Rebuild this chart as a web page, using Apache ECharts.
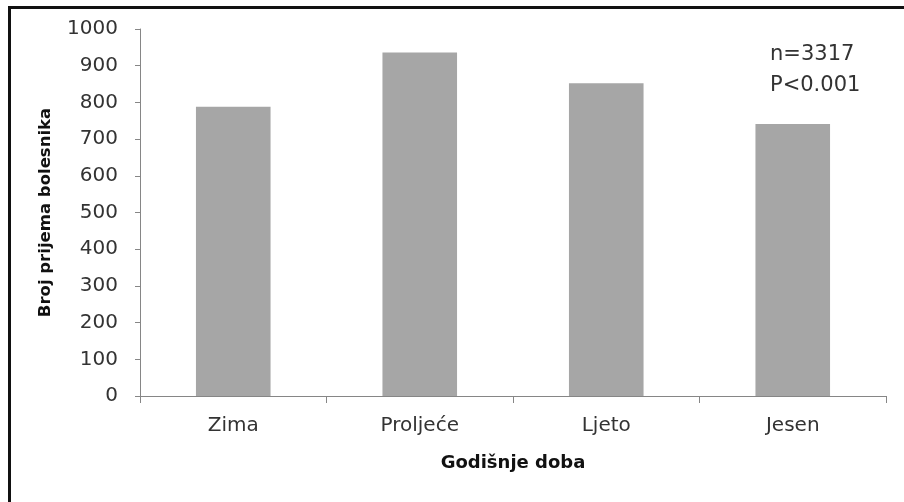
<!DOCTYPE html>
<html>
<head>
<meta charset="utf-8">
<script src="https://cdn.jsdelivr.net/npm/echarts@6/dist/echarts.min.js"></script>
<style>
html,body{margin:0;padding:0;background:#fff;}
#chart{width:904px;height:502px;}
</style>
</head>
<body>
<div id="chart"></div>
<script>
const categories = ['Zima', 'Proljeće', 'Ljeto', 'Jesen'];
const admissions = [788, 936, 852, 741];
const yTicks = [0, 100, 200, 300, 400, 500, 600, 700, 800, 900, 1000];
const noteLines = ['n=3317', 'P<0.001'];

const chart = echarts.init(document.getElementById('chart'));
const font = 'DejaVu Sans';
chart.setOption({
  animation: false,
  backgroundColor: '#fff',
  grid: { left: 140, right: 18, top: 29, bottom: 106 },
  xAxis: {
    type: 'category',
    data: categories,
    name: 'Godišnje doba',
    nameLocation: 'middle',
    nameGap: 58,
    nameTextStyle: { fontFamily: font, fontSize: 18, fontWeight: 'bold', color: '#111' },
    axisLine: { lineStyle: { color: '#868686', width: 1 } },
    axisTick: { show: true, length: 7, lineStyle: { color: '#868686' } },
    axisLabel: { fontFamily: font, fontSize: 20, color: '#333', margin: 20 }
  },
  yAxis: {
    type: 'value',
    min: yTicks[0],
    max: yTicks[yTicks.length - 1],
    interval: 100,
    name: 'Broj prijema bolesnika',
    nameLocation: 'middle',
    nameGap: 86,
    nameTextStyle: { fontFamily: font, fontSize: 16.5, fontWeight: 'bold', color: '#111' },
    axisLine: { show: true, lineStyle: { color: '#868686', width: 1 } },
    axisTick: { show: true, length: 5, lineStyle: { color: '#868686' } },
    splitLine: { show: false },
    axisLabel: { fontFamily: font, fontSize: 20, color: '#333', margin: 22, formatter: v => String(v) }
  },
  series: [{
    type: 'bar',
    data: admissions,
    barWidth: '40%',
    itemStyle: { color: '#a6a6a6' }
  }],
  graphic: [
    { type: 'rect', left: 8, top: 6, shape: { width: 896, height: 3 }, style: { fill: '#111' } },
    { type: 'rect', left: 8, top: 6, shape: { width: 3, height: 496 }, style: { fill: '#111' } },
    { type: 'text', left: 770, top: 39, style: { text: noteLines.join('\n'), fontFamily: font, fontSize: 21, lineHeight: 31, fill: '#333' } }
  ]
});
</script>
</body>
</html>
